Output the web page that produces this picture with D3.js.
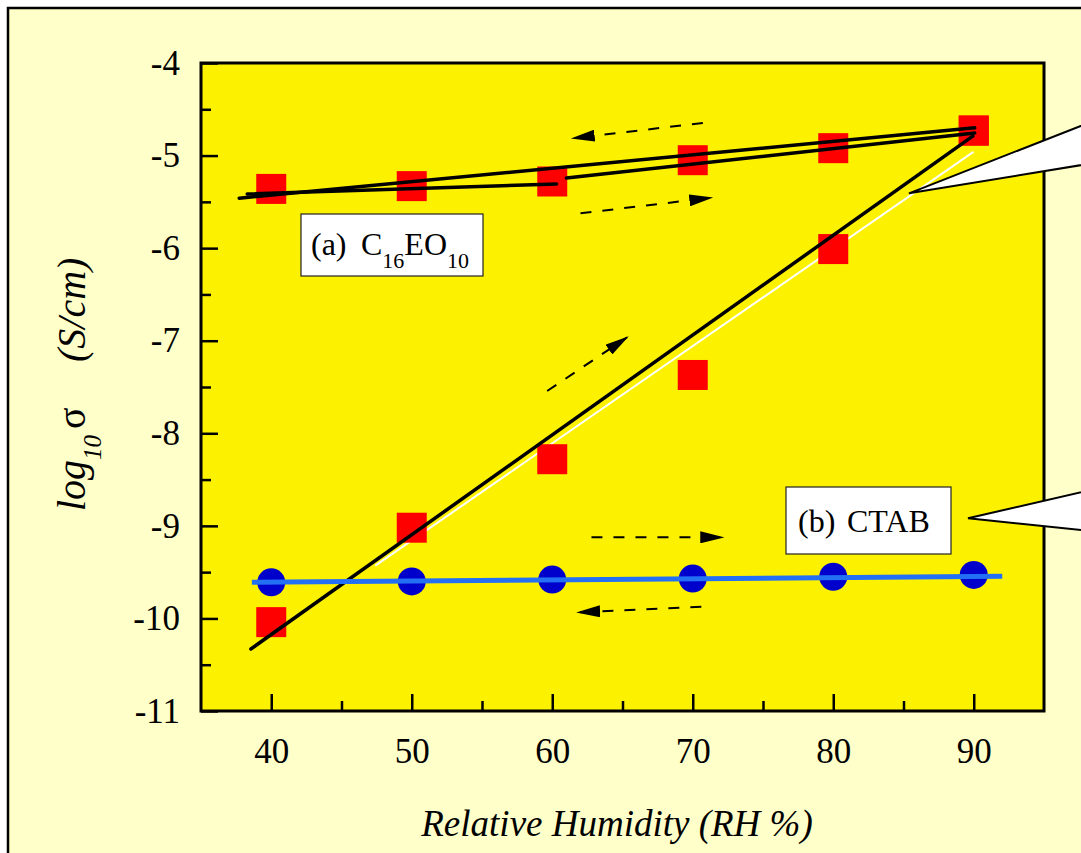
<!DOCTYPE html>
<html lang="en">
<head>
<meta charset="UTF-8">
<title>Conductivity vs Relative Humidity</title>
<script src="https://cdn.jsdelivr.net/npm/d3@7"></script>
<style>
  body { margin: 0; }
  #chart text, #chart tspan { font-family: "Liberation Serif", Tinos, "Times New Roman", Times, FreeSerif !important; }
</style>
</head>
<body>
<div id="chart"></div>
<script>
// ---- data ----
const rhValues = [40, 50, 60, 70, 80, 90];
const c16Desorption = [-5.36, -5.33, -5.28, -5.05, -4.92, -4.73];
const c16Adsorption = [-10.04, -9.02, -8.28, -7.37, -6.01, -4.73];
const ctabValues = [-9.61, -9.60, -9.58, -9.57, -9.55, -9.53];

const xMajorTicks = [40, 50, 60, 70, 80, 90];
const xMinorTicks = [45, 55, 65, 75, 85];
const yMajorTicks = [-4, -5, -6, -7, -8, -9, -10, -11];
const yMinorTicks = [-4.5, -5.5, -6.5, -7.5, -8.5, -9.5, -10.5];

// fitted lines drawn on the plot [rh, log sigma]
const fitUpper = [[37.72, -5.46], [90.07, -4.70]];
const fitLowerA = [[38.29, -5.415], [60.30, -5.307]];
const fitLowerB = [[61.01, -5.242], [90.07, -4.756]];
const fitSteep = [[38.55, -10.33], [89.93, -4.79]];
const fitSteepWhite = [[47.41, -9.43], [89.98, -4.96]];
const fitCtab = [[38.62, -9.61], [92.03, -9.545]];

// dashed direction arrows [x0, y0, x1(tip), y1(tip)]
const arrows = [
  [70.72, -4.648, 61.46, -4.813],
  [62.01, -5.624, 71.32, -5.455],
  [59.64, -7.543, 65.33, -6.963],
  [62.79, -9.124, 72.10, -9.124],
  [70.61, -9.873, 61.84, -9.934]
];

// callout wedges [tip, upper far, lower far]
const callouts = [
  [[85.39, -5.408], [99.05, -4.594], [99.05, -5.068]],
  [[89.59, -8.918], [99.05, -8.587], [99.05, -9.066]]
];

const FONT = "Liberation Serif";

// ---- setup ----
const W = 1081, H = 853;
const svg = d3.select("#chart").append("svg")
    .attr("width", W)
    .attr("height", H)
    .attr("font-family", FONT);

const x = d3.scaleLinear().domain([35, 95]).range([201, 1044]);
const y = d3.scaleLinear().domain([-11, -4]).range([711, 63]);

// outer frame
svg.append("rect")
    .attr("x", 8).attr("y", 8)
    .attr("width", 1300).attr("height", 1000)
    .attr("fill", "#FFFFC9")
    .attr("stroke", "#000")
    .attr("stroke-width", 2.5);

// plot background
svg.append("rect")
    .attr("x", x(35)).attr("y", y(-4))
    .attr("width", x(95) - x(35))
    .attr("height", y(-11) - y(-4))
    .attr("fill", "#FCF200");

const defs = svg.append("defs");
defs.append("marker")
    .attr("id", "head")
    .attr("viewBox", "0 -6 24 12")
    .attr("refX", 22).attr("refY", 0)
    .attr("markerWidth", 24).attr("markerHeight", 12)
    .attr("markerUnits", "userSpaceOnUse")
    .attr("orient", "auto")
  .append("path")
    .attr("d", "M0,-6L24,0L0,6Z")
    .attr("fill", "#000");

// axes (ticks point inward)
function styleAxis(g) {
  g.select(".domain").remove();
  g.attr("font-family", FONT).attr("font-size", 35);
  g.selectAll(".tick line").attr("stroke", "#000").attr("stroke-width", 2.5);
  g.selectAll("text").attr("font-family", FONT).attr("fill", "#000");
}

svg.append("g")
    .attr("transform", `translate(0,${y(-11)})`)
    .call(d3.axisBottom(x).tickValues(xMinorTicks).tickSize(-10).tickFormat(""))
    .call(styleAxis);

svg.append("g")
    .attr("transform", `translate(0,${y(-11)})`)
    .call(d3.axisBottom(x).tickValues(xMajorTicks).tickSize(-17).tickPadding(27).tickFormat(d => String(d)))
    .call(styleAxis);

svg.append("g")
    .attr("transform", `translate(${x(35)},0)`)
    .call(d3.axisLeft(y).tickValues(yMinorTicks).tickSize(-10).tickFormat(""))
    .call(styleAxis);

svg.append("g")
    .attr("transform", `translate(${x(35)},0)`)
    .call(d3.axisLeft(y).tickValues(yMajorTicks).tickSize(-17).tickPadding(21).tickFormat(d => String(d)))
    .call(styleAxis);

// fit lines
const line = d3.line().x(d => x(d[0])).y(d => y(d[1]));

svg.append("path").datum(fitSteepWhite)
    .attr("d", line).attr("fill", "none")
    .attr("stroke", "#fff").attr("stroke-width", 2);

// markers
const sq = 30;
svg.selectAll(".sqDes")
    .data(rhValues.map((r, i) => [r, c16Desorption[i]]))
    .enter().append("rect")
    .attr("x", d => x(d[0]) - sq / 2)
    .attr("y", d => y(d[1]) - sq / 2)
    .attr("width", sq).attr("height", sq)
    .attr("fill", "#FF0000");

svg.selectAll(".sqAds")
    .data(rhValues.map((r, i) => [r, c16Adsorption[i]]))
    .enter().append("rect")
    .attr("x", d => x(d[0]) - sq / 2)
    .attr("y", d => y(d[1]) - sq / 2)
    .attr("width", sq).attr("height", sq)
    .attr("fill", "#FF0000");

// black lines over the squares
[fitUpper, fitLowerA, fitLowerB, fitSteep].forEach(seg => {
  svg.append("path").datum(seg)
      .attr("d", line).attr("fill", "none")
      .attr("stroke", "#000").attr("stroke-width", 3.5)
      .attr("stroke-linecap", "round");
});

svg.selectAll(".dot")
    .data(rhValues.map((r, i) => [r, ctabValues[i]]))
    .enter().append("circle")
    .attr("cx", d => x(d[0]))
    .attr("cy", d => y(d[1]))
    .attr("r", 14)
    .attr("fill", "#0000CC");

svg.append("path").datum(fitCtab)
    .attr("d", line).attr("fill", "none")
    .attr("stroke", "#2470F5").attr("stroke-width", 5);

// dashed arrows
svg.selectAll(".arrow")
    .data(arrows)
    .enter().append("line")
    .attr("x1", d => x(d[0])).attr("y1", d => y(d[1]))
    .attr("x2", d => x(d[2])).attr("y2", d => y(d[3]))
    .attr("stroke", "#000").attr("stroke-width", 2)
    .attr("stroke-dasharray", "11,11")
    .attr("marker-end", "url(#head)");

// plot border
svg.append("rect")
    .attr("x", x(35)).attr("y", y(-4))
    .attr("width", x(95) - x(35))
    .attr("height", y(-11) - y(-4))
    .attr("fill", "none")
    .attr("stroke", "#000")
    .attr("stroke-width", 3);

// legend boxes
svg.append("rect")
    .attr("x", 301).attr("y", 214).attr("width", 182).attr("height", 62)
    .attr("fill", "#fff").attr("stroke", "#222").attr("stroke-width", 1.2);
const la = svg.append("text").attr("x", 311).attr("y", 255)
    .attr("font-family", FONT).attr("font-size", 32);
la.append("tspan").text("(a)");
la.append("tspan").attr("x", 361).text("C");
la.append("tspan").attr("font-size", 22).attr("dy", 13).text("16");
la.append("tspan").attr("dy", -13).text("EO");
la.append("tspan").attr("font-size", 22).attr("dy", 13).text("10");

svg.append("rect")
    .attr("x", 786).attr("y", 487).attr("width", 165).attr("height", 67)
    .attr("fill", "#fff").attr("stroke", "#222").attr("stroke-width", 1.2);
const lb = svg.append("text").attr("x", 798).attr("y", 532)
    .attr("font-family", FONT).attr("font-size", 32);
lb.append("tspan").text("(b)");
lb.append("tspan").attr("x", 847).text("CTAB");

// callout wedges
svg.selectAll(".callout")
    .data(callouts)
    .enter().append("polygon")
    .attr("points", d => d.map(p => [x(p[0]), y(p[1])].join(",")).join(" "))
    .attr("fill", "#fff")
    .attr("stroke", "#000")
    .attr("stroke-width", 2);

// axis titles
svg.append("text")
    .attr("x", 617).attr("y", 836)
    .attr("text-anchor", "middle")
    .attr("font-family", FONT)
    .attr("font-size", 37)
    .attr("font-style", "italic")
    .text("Relative Humidity (RH %)");

const yl = svg.append("g").attr("transform", "translate(85,511) rotate(-90)");
const ylt = yl.append("text").attr("x", 0).attr("y", 0)
    .attr("font-family", FONT)
    .attr("font-size", 40).attr("font-style", "italic");
ylt.append("tspan").text("log");
ylt.append("tspan").attr("font-size", 25).attr("dy", 16).text("10");
ylt.append("tspan").attr("dy", -16).attr("dx", 6).attr("font-style", "normal").text("σ");
ylt.append("tspan").attr("x", 149).text("(S/cm)");
</script>
</body>
</html>
